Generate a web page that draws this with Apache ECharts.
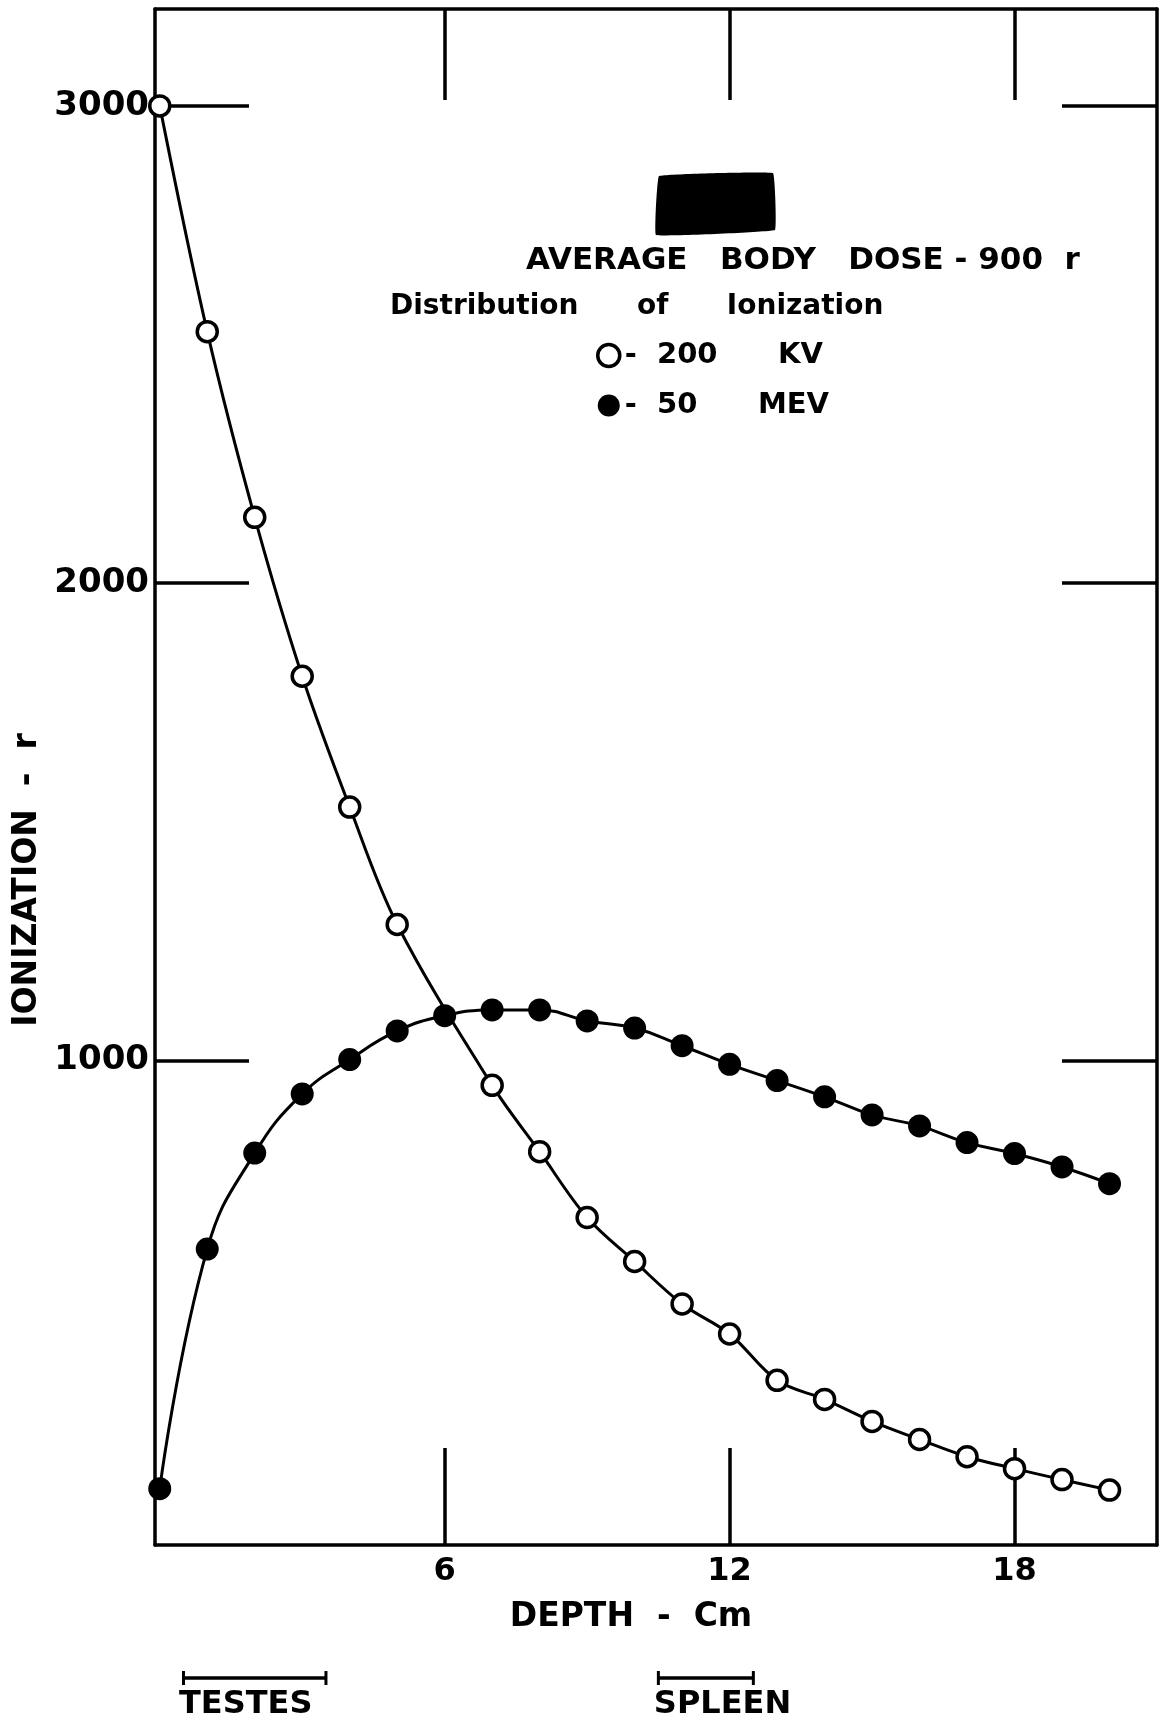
<!DOCTYPE html>
<html><head><meta charset="utf-8">
<script src="https://cdn.jsdelivr.net/npm/echarts@6/dist/echarts.min.js"></script>
<style>html,body{margin:0;padding:0;background:#fff}#c{width:1163px;height:1723px}</style>
</head><body><div id="c"></div>
<script>
// ---- data ----
const depthKV = [0,1,2,3,4,5,7,8,9,10,11,12,13,14,15,16,17,18,19,20];
const ionKV   = [3000,2527,2138,1805,1531,1285,948,809,671,579,490,427,330,290,244,206,170,145,122,100];
const depthMeV = [0,1,2,3,4,5,6,7,8,9,10,11,12,13,14,15,16,17,18,19,20];
const ionMeV   = [103,605,806,930,1002,1062,1094,1106,1106,1083,1068,1031,992,958,924,886,863,828,805,777,742];
const yTicks = [1000,2000,3000];
const xTicks = [6,12,18];
const organNames = ['TESTES','SPLEEN'];
const organStart = [0.5,10.5];
const organEnd   = [3.5,12.5];
const seriesNames = ['200 KV','50 MEV'];
const titleLines = ['AVERAGE   BODY   DOSE - 900  r','Distribution      of      Ionization'];
const xName = 'DEPTH  -  Cm';
const yName = 'IONIZATION  -  r';

const FONT = 'DejaVu Sans';
const X_MIN = -0.1, X_MAX = 21, Y_MIN = -15, Y_MAX = 3203;

const chart = echarts.init(document.getElementById('c'), null, {renderer:'canvas'});

const pairs = (xs, ys) => xs.map((x,i)=>[x, ys[i]]);

const organSeries = organNames.map((nm,i)=>({
  type:'line', xAxisIndex:2, yAxisIndex:2, silent:true,
  data:[
    {value:[organStart[i],0.5], label:{show:true, formatter:nm, position:[-3,18], align:'left', verticalAlign:'top',
      fontFamily:FONT, fontWeight:'bold', fontSize:32, color:'#000'}},
    {value:[organEnd[i],0.5]}
  ],
  symbol:'rect', symbolSize:[3,14], itemStyle:{color:'#000'},
  lineStyle:{color:'#000', width:3.5}
}));

const option = {
  animation:false,
  backgroundColor:'#fff',
  graphic:[{
    type:'polygon', shape:{points:[[659,176],[773,173],[775,230],[656,235]], smooth:0.05},
    style:{fill:'#000'}
  }],
  title:[
    {text:titleLines[0], left:526, top:245, padding:0,
     textStyle:{fontFamily:FONT, fontWeight:'bold', fontSize:31, color:'#000'}},
    {text:titleLines[1], left:390, top:293, padding:0,
     textStyle:{fontFamily:FONT, fontWeight:'bold', fontSize:28, color:'#000'}}
  ],
  legend:{
    orient:'vertical', left:591, top:336, itemGap:21, itemWidth:22, itemHeight:22,
    selectedMode:false,
    formatter: n => { const p = n.split(' '); return '-  ' + p[0] + '      ' + p[1]; },
    textStyle:{fontFamily:FONT, fontWeight:'bold', fontSize:29, color:'#000'},
    data:[
      {name:seriesNames[0], icon:'circle', itemStyle:{color:'#fff', borderColor:'#000', borderWidth:3.5}},
      {name:seriesNames[1], icon:'circle', itemStyle:{color:'#000', borderWidth:0}}
    ]
  },
  grid:[
    {left:155, right:6, top:9, bottom:178},
    {left:155, right:6, top:1670, height:16}
  ],
  xAxis:[
    {type:'value', gridIndex:0, position:'bottom', min:X_MIN, max:X_MAX,
     axisLine:{onZero:false, lineStyle:{color:'#000', width:3.5}},
     axisTick:{inside:true, length:97, customValues:xTicks, lineStyle:{color:'#000', width:3.5}},
     axisLabel:{customValues:xTicks, fontFamily:FONT, fontWeight:'bold', fontSize:32, color:'#000', margin:11},
     splitLine:{show:false},
     name:xName, nameLocation:'middle', nameGap:56,
     nameTextStyle:{fontFamily:FONT, fontWeight:'bold', fontSize:33, color:'#000', padding:[0,50,0,0]}},
    {type:'value', gridIndex:0, position:'top', min:X_MIN, max:X_MAX,
     axisLine:{onZero:false, lineStyle:{color:'#000', width:3.5}},
     axisTick:{inside:true, length:91, customValues:xTicks, lineStyle:{color:'#000', width:3.5}},
     axisLabel:{show:false}, splitLine:{show:false}},
    {type:'value', gridIndex:1, min:X_MIN, max:X_MAX, show:false}
  ],
  yAxis:[
    {type:'value', gridIndex:0, position:'left', min:Y_MIN, max:Y_MAX,
     axisLine:{show:true, onZero:false, lineStyle:{color:'#000', width:3.5}},
     axisTick:{show:true, inside:true, length:94, customValues:yTicks, lineStyle:{color:'#000', width:3.5}},
     axisLabel:{customValues:yTicks, formatter: v => String(v), fontFamily:FONT, fontWeight:'bold', fontSize:34, color:'#000', margin:6},
     splitLine:{show:false},
     name:yName, nameLocation:'middle', nameGap:106,
     nameTextStyle:{fontFamily:FONT, fontWeight:'bold', fontSize:33, color:'#000', padding:[0,206,0,0]}},
    {type:'value', gridIndex:0, position:'right', min:Y_MIN, max:Y_MAX,
     axisLine:{show:true, onZero:false, lineStyle:{color:'#000', width:3.5}},
     axisTick:{show:true, inside:true, length:95, customValues:yTicks, lineStyle:{color:'#000', width:3.5}},
     axisLabel:{show:false}, splitLine:{show:false}},
    {type:'value', gridIndex:1, min:0, max:1, show:false}
  ],
  series:[
    {name:seriesNames[0], type:'line', xAxisIndex:0, yAxisIndex:0, data:pairs(depthKV, ionKV),
     smooth:0.35, symbol:'circle', symbolSize:20, z:3,
     itemStyle:{color:'#fff', borderColor:'#000', borderWidth:3.5},
     lineStyle:{color:'#000', width:3}},
    {name:seriesNames[1], type:'line', xAxisIndex:0, yAxisIndex:0, data:pairs(depthMeV, ionMeV),
     smooth:0.45, symbol:'circle', symbolSize:23, z:4,
     itemStyle:{color:'#000', borderWidth:0},
     lineStyle:{color:'#000', width:3}},
    ...organSeries
  ]
};
chart.setOption(option);
</script></body></html>
